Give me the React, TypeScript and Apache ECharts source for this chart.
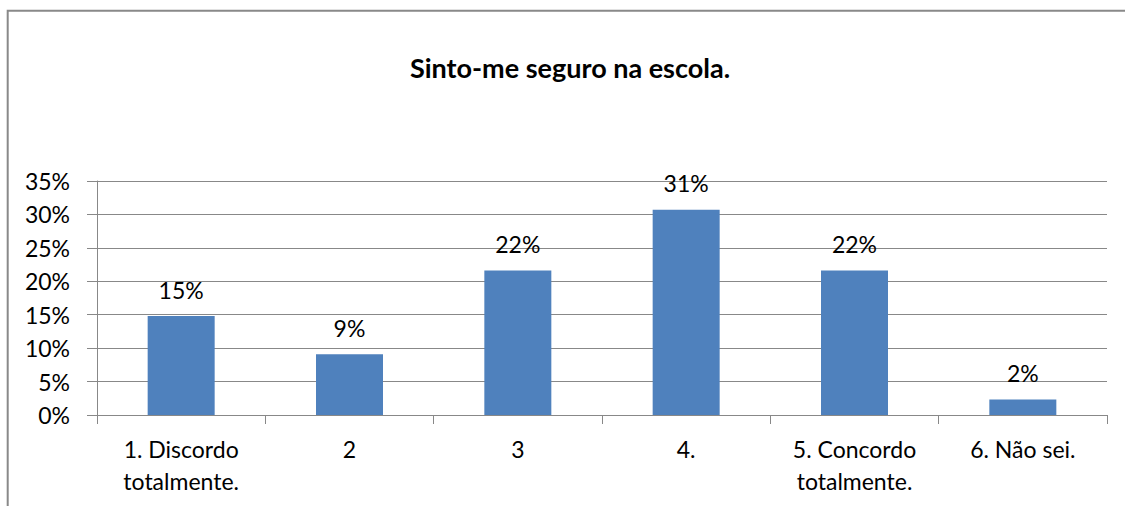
import React, { useEffect, useRef } from "react";
import * as echarts from "echarts";

const categories = [
  "1. Discordo\ntotalmente.",
  "2",
  "3",
  "4.",
  "5. Concordo\ntotalmente.",
  "6. Não sei.",
];
const values = [0.148, 0.091, 0.216, 0.307, 0.216, 0.023];
const titleText = "Sinto-me seguro na escola.";
const yMax = 0.35;
const yInterval = 0.05;

const FONT = "Lato, 'Noto Sans', sans-serif";

export default function App() {
  const ref = useRef<HTMLDivElement>(null);
  useEffect(() => {
    if (!ref.current) return;
    const chart = echarts.init(ref.current, undefined, { renderer: "svg" });
    chart.setOption({
      animation: false,
      backgroundColor: "#ffffff",
      title: {
        text: titleText,
        left: 565,
        top: 49,
        textAlign: "center",
        textStyle: {
          fontFamily: FONT,
          fontSize: 27,
          fontWeight: "bold",
          color: "#000000",
        },
      },
      graphic: [
        {
          type: "polyline",
          shape: {
            points: [
              [7.7, 520],
              [7.7, 10.8],
              [1140, 10.8],
            ],
          },
          style: { fill: "none", stroke: "#898989", lineWidth: 2 },
          silent: true,
        },
      ],
      grid: { left: 97, right: 18, top: 181, bottom: 91, containLabel: false },
      xAxis: {
        type: "category",
        data: categories,
        axisLine: { show: true, lineStyle: { color: "#888888", width: 1 } },
        axisTick: { show: true, length: 9, lineStyle: { color: "#888888" } },
        axisLabel: {
          margin: 18,
          fontFamily: FONT,
          fontSize: 23,
          lineHeight: 32,
          color: "#000000",
          interval: 0,
        },
      },
      yAxis: {
        type: "value",
        min: 0,
        max: yMax,
        interval: yInterval,
        axisLine: { show: true, lineStyle: { color: "#888888", width: 1 } },
        axisTick: { show: true, length: 10, lineStyle: { color: "#888888" } },
        splitLine: { show: true, lineStyle: { color: "#888888", width: 1 } },
        axisLabel: {
          margin: 27,
          fontFamily: FONT,
          fontSize: 23,
          color: "#000000",
          formatter: (v: number) => Math.round(v * 100) + "%",
        },
      },
      series: [
        {
          type: "bar",
          data: values,
          barWidth: 67,
          itemStyle: { color: "#4F81BD" },
          label: {
            show: true,
            position: "top",
            distance: 15,
            fontFamily: FONT,
            fontSize: 23,
            color: "#000000",
            formatter: (p: any) => Math.round(p.value * 100) + "%",
          },
        },
      ],
    });
    return () => chart.dispose();
  }, []);
  return (
    <div
      ref={ref}
      style={{ position: "fixed", left: 0, top: 0, width: 1125, height: 506 }}
    />
  );
}
